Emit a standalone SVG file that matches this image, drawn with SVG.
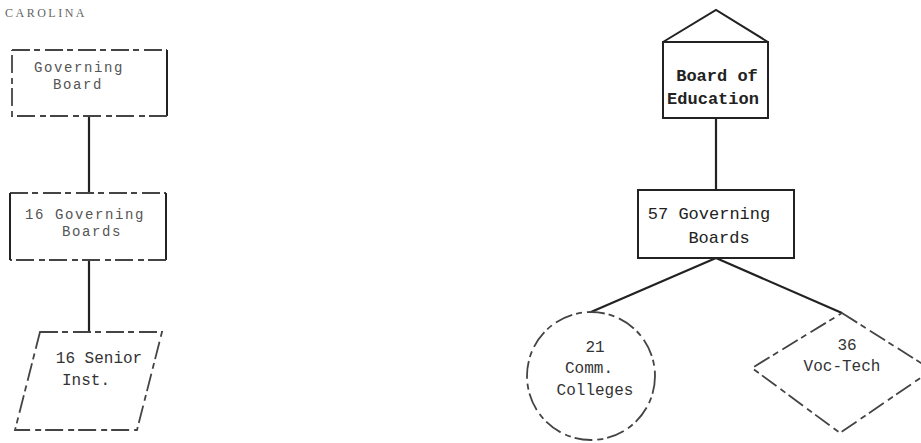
<svg xmlns="http://www.w3.org/2000/svg" width="921" height="443" viewBox="0 0 921 443">
<style>
.bg{fill:#fff}
.shape{fill:none;stroke:#222;stroke-width:2}
.faint{fill:none;stroke:#444;stroke-width:1.8;stroke-dasharray:18 4 6 5}
.conn{fill:none;stroke:#222;stroke-width:2.2}
.tl{font-family:"Liberation Mono","DejaVu Sans Mono",monospace;font-size:14px;letter-spacing:1.6px;fill:#555;text-anchor:middle}
.tr{font-family:"Liberation Mono","DejaVu Sans Mono",monospace;font-size:17px;fill:#222;text-anchor:middle}
.ts{font-family:"Liberation Mono","DejaVu Sans Mono",monospace;font-size:16px;fill:#333;text-anchor:middle}
</style>
<rect class="bg" x="0" y="0" width="921" height="443"/>
<text x="5" y="17" font-family="Liberation Serif, serif" font-size="12" letter-spacing="2.5" fill="#666">CAROLINA</text>
<g id="connectors">
<line class="conn" x1="89" y1="116" x2="89" y2="193"/>
<line class="conn" x1="89" y1="260" x2="89" y2="332"/>
<line class="conn" x1="716" y1="118" x2="716" y2="190"/>
<line class="conn" x1="716" y1="258" x2="591" y2="312"/>
<line class="conn" x1="716" y1="258" x2="842" y2="313"/>
</g>
<g id="governing-board">
<path class="faint" d="M12 50 H167"/>
<path class="shape" d="M167 50 V116"/>
<path class="faint" d="M167 116 H12 V50"/>
<text class="tl" x="79" y="72">Governing</text>
<text class="tl" x="78" y="89">Board</text>
</g>
<g id="sixteen-governing-boards">
<path class="faint" d="M10 193 H166"/>
<path class="shape" d="M166 193 V260"/>
<path class="faint" d="M166 260 H10"/>
<path class="shape" d="M10 193 V260"/>
<text class="tl" x="85" y="219">16 Governing</text>
<text class="tl" x="92" y="236">Boards</text>
</g>
<g id="senior-inst">
<polygon class="faint" points="40,332 162,332 137,430 15,430"/>
<text class="ts" x="99" y="363">16 Senior</text>
<text class="ts" x="86" y="385">Inst.</text>
</g>
<g id="board-of-education">
<polyline class="shape" points="663,42 716,10 768,42"/>
<rect class="shape" x="663" y="42" width="105" height="76"/>
<text class="tr" x="717" y="81" font-weight="bold">Board of</text>
<text class="tr" x="713" y="104" font-weight="bold">Education</text>
</g>
<g id="fifty-seven-governing-boards">
<rect class="shape" x="638" y="190" width="156" height="68"/>
<text class="tr" x="709" y="219">57 Governing</text>
<text class="tr" x="719" y="243">Boards</text>
</g>
<g id="comm-colleges">
<circle class="faint" cx="591" cy="376" r="64"/>
<text class="ts" x="595" y="352">21</text>
<text class="ts" x="589" y="373">Comm.</text>
<text class="ts" x="595" y="395">Colleges</text>
</g>
<g id="voc-tech">
<polygon class="faint" points="842,313 932,370 840,433 752,368"/>
<text class="ts" x="847" y="350">36</text>
<text class="ts" x="842" y="371">Voc-Tech</text>
</g>
</svg>
